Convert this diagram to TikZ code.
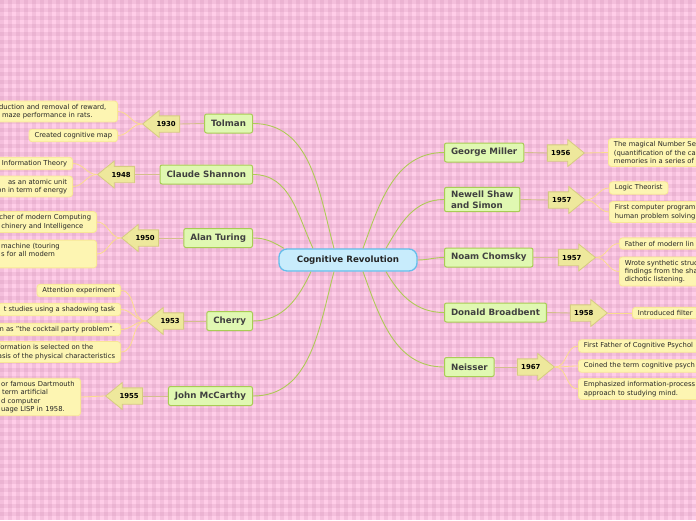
\documentclass[tikz,border=0pt]{standalone}
\usepackage{fontspec}
\setmainfont{DejaVu Sans}
\usetikzlibrary{shapes.arrows}

\definecolor{bgpink}{RGB}{255,205,232}
\definecolor{stripe}{RGB}{196,128,168}
\definecolor{rootfill}{RGB}{200,236,252}
\definecolor{rootline}{RGB}{100,190,235}
\definecolor{topicfill}{RGB}{224,248,178}
\definecolor{topicline}{RGB}{168,204,84}
\definecolor{yearfill}{RGB}{238,232,156}
\definecolor{yearline}{RGB}{214,204,128}
\definecolor{leaffill}{RGB}{253,245,178}
\definecolor{leafline}{RGB}{248,230,150}
\definecolor{branch}{RGB}{174,202,86}
\definecolor{stem}{RGB}{212,190,140}
\definecolor{twig}{RGB}{250,220,140}
\definecolor{ink}{RGB}{64,64,64}

\tikzstyle{root} = [
    rectangle,
    rounded corners=8pt,
    minimum width=138pt,
    minimum height=22pt,
    draw=rootline,
    line width=1.3pt,
    fill=rootfill,
    text=black!85,
    font=\fontsize{8.7}{10}\selectfont\bfseries
]
\tikzstyle{topic} = [
    rectangle,
    rounded corners=2pt,
    minimum height=19pt,
    inner xsep=6.5pt,
    draw=topicline,
    line width=1pt,
    fill=topicfill,
    text=ink,
    align=left,
    font=\fontsize{8.7}{11}\selectfont\bfseries
]
\tikzstyle{year} = [
    single arrow,
    single arrow tip angle=78,
    single arrow head extend=5.25pt,
    minimum height=37pt,
    inner xsep=2pt,
    inner ysep=5.25pt,
    text height=5pt,
    text depth=0pt,
    draw=yearline,
    line width=0.8pt,
    fill=yearfill,
    font=\fontsize{6.9}{8}\selectfont\bfseries
]
\tikzstyle{yearleft} = [year, shape border rotate=180, anchor=tip]
\tikzstyle{yearright} = [year, anchor=tip]
\tikzstyle{leaf} = [
    rectangle,
    rounded corners=3pt,
    inner xsep=5.5pt,
    inner ysep=3pt,
    draw=leafline,
    line width=0.8pt,
    fill=leaffill,
    text=black!85,
    align=left,
    font=\fontsize{6.8}{8.3}\selectfont
]
\tikzstyle{leafleft} = [leaf, anchor=east]
\tikzstyle{leafright} = [leaf, anchor=west, text width=130pt]
\tikzstyle{branchline} = [draw=branch, line width=0.9pt]
\tikzstyle{stemline} = [draw=stem, line width=0.9pt]
\tikzstyle{twigline} = [draw=twig, line width=0.8pt]

\begin{document}
\begin{tikzpicture}[x=1pt, y=-1pt]

\useasboundingbox (0,0) rectangle (696,520);
\clip (0,0) rectangle (696,520);
\fill [bgpink] (0,0) rectangle (696,520);
\foreach \i in {0,...,86}
    \fill [stripe, opacity=0.18] (8*\i,0) rectangle ++(4,520);
\foreach \j in {0,...,64}
    \fill [stripe, opacity=0.18] (0,8*\j) rectangle ++(696,4);

\node (cr) [root] at (348,260) {Cognitive Revolution};

\node (tolman) [topic, anchor=east] at (253,123.5) {Tolman};
\node (shannon) [topic, anchor=east] at (253,174.5) {Claude Shannon};
\node (turing) [topic, anchor=east] at (253,238) {Alan Turing};
\node (cherry) [topic, anchor=east] at (253,321) {Cherry};
\node (mccarthy) [topic, anchor=east] at (253,396) {John McCarthy};

\node (miller) [topic, anchor=west] at (444,152.5) {George Miller};
\node (newell) [topic, anchor=west] at (444,199.5) {Newell Shaw\\and Simon};
\node (chomsky) [topic, anchor=west] at (444,257.5) {Noam Chomsky};
\node (broadbent) [topic, anchor=west] at (444,312.5) {Donald Broadbent};
\node (neisser) [topic, anchor=west] at (444,367) {Neisser};

\node (y1930) [yearleft] at (142,124) {1930};
\node (y1948) [yearleft] at (97,174.5) {1948};
\node (y1950) [yearleft] at (121,238) {1950};
\node (y1953) [yearleft] at (146,321) {1953};
\node (y1955) [yearleft] at (105,396) {1955};

\node (y1956) [yearright] at (585,153) {1956};
\node (y1957a) [yearright] at (586,200) {1957};
\node (y1957b) [yearright] at (596,257.5) {1957};
\node (y1958) [yearright] at (608,313) {1958};
\node (y1967) [yearright] at (555,367) {1967};

\node (tolA) [leafleft, text width=113pt] at (118,111.5)
{duction and removal of reward,\\\hspace*{3pt}maze performance in rats.};
\node (tolB) [leafleft] at (118,135.5) {Created cognitive map};

\node (shaA) [leafleft] at (73,163.5) {Information Theory};
\node (shaB) [leafleft, align=right] at (73,186.5)
{as an atomic unit\\on in term of energy};

\node (turA) [leafleft] at (97,222)
{cher of modern Computing\\\hspace*{2pt}chinery and Intelligence};
\node (turB) [leafleft, text width=90pt] at (97,254)
{machine (touring\\s for all modern\\\mbox{}};

\node (cheA) [leafleft] at (121,290.5) {Attention experiment};
\node (cheB) [leafleft] at (121,309.5) {t studies using a shadowing task};
\node (cheC) [leafleft] at (121,329.5) {n as "the cocktail party problem".};
\node (cheD) [leafleft] at (121,352)
{formation is selected on the\\asis of the physical characteristics};

\node (mccA) [leafleft, text width=74pt] at (81,397)
{or famous Dartmouth\\\hspace*{1pt}term artificial\\d computer\\uage LISP in 1958.};

\node (milA) [leafright] at (608,152.5)
{The magical Number Se\\(quantification of the ca\\memories in a series of};

\node (newA) [leaf, anchor=west] at (609,188) {Logic Theorist};
\node (newB) [leafright] at (609,212)
{First computer program\\human problem solving};

\node (choA) [leafright] at (619,243.5) {Father of modern lin};
\node (choB) [leafright] at (619,271.5)
{Wrote synthetic struc\\findings from the sha\\dichotic listening.};

\node (broA) [leafright] at (632,313) {Introduced filter};

\node (neiA) [leafright] at (578,346) {First Father of Cognitive Psychol};
\node (neiB) [leafright] at (578,366) {Coined the term cognitive psych};
\node (neiC) [leafright] at (578,389)
{Emphasized information-process\\approach to studying mind.};

\draw [branchline] ([xshift=-14pt]cr.north) to[out=105,in=0] (tolman.east);
\draw [branchline] ([xshift=-35pt]cr.north) to[out=115,in=0] (shannon.east);
\draw [branchline] ([xshift=-64pt]cr.north) to[out=150,in=0] (turing.east);
\draw [branchline] ([xshift=-37pt]cr.south) to[out=-115,in=0] (cherry.east);
\draw [branchline] ([xshift=-14pt]cr.south) to[out=-105,in=0] (mccarthy.east);
\draw [branchline] ([xshift=15pt]cr.north) to[out=70,in=180] (miller.west);
\draw [branchline] ([xshift=38pt]cr.north) to[out=60,in=180] (newell.west);
\draw [branchline] (cr.east) to[out=0,in=180] (chomsky.west);
\draw [branchline] ([xshift=38pt]cr.south) to[out=-60,in=180] (broadbent.west);
\draw [branchline] ([xshift=15pt]cr.south) to[out=-70,in=180] (neisser.west);

\draw [stemline] (tolman.west) -- (y1930.tail);
\draw [stemline] (shannon.west) -- (y1948.tail);
\draw [stemline] (turing.west) -- (y1950.tail);
\draw [stemline] (cherry.west) -- (y1953.tail);
\draw [stemline] (mccarthy.west) -- (y1955.tail);
\draw [stemline] (miller.east) -- (y1956.tail);
\draw [stemline] (newell.east) -- (y1957a.tail);
\draw [stemline] (chomsky.east) -- (y1957b.tail);
\draw [stemline] (broadbent.east) -- (y1958.tail);
\draw [stemline] (neisser.east) -- (y1967.tail);

\draw [twigline] (y1930.tip) to[out=180,in=0] (tolA.east);
\draw [twigline] (y1930.tip) to[out=180,in=0] (tolB.east);
\draw [twigline] (y1948.tip) to[out=180,in=0] (shaA.east);
\draw [twigline] (y1948.tip) to[out=180,in=0] (shaB.east);
\draw [twigline] (y1950.tip) to[out=180,in=0] (turA.east);
\draw [twigline] (y1950.tip) to[out=180,in=0] (turB.east);
\draw [twigline] (y1953.tip) to[out=180,in=0] (cheA.east);
\draw [twigline] (y1953.tip) to[out=180,in=0] (cheB.east);
\draw [twigline] (y1953.tip) to[out=180,in=0] (cheC.east);
\draw [twigline] (y1953.tip) to[out=180,in=0] (cheD.east);
\draw [twigline] (y1955.tip) -- (mccA.east);
\draw [twigline] (y1956.tip) -- (milA.west);
\draw [twigline] (y1957a.tip) to[out=0,in=180] (newA.west);
\draw [twigline] (y1957a.tip) to[out=0,in=180] (newB.west);
\draw [twigline] (y1957b.tip) to[out=0,in=180] (choA.west);
\draw [twigline] (y1957b.tip) to[out=0,in=180] (choB.west);
\draw [twigline] (y1958.tip) -- (broA.west);
\draw [twigline] (y1967.tip) to[out=0,in=180] (neiA.west);
\draw [twigline] (y1967.tip) to[out=0,in=180] (neiB.west);
\draw [twigline] (y1967.tip) to[out=0,in=180] (neiC.west);

\end{tikzpicture}
\end{document}
